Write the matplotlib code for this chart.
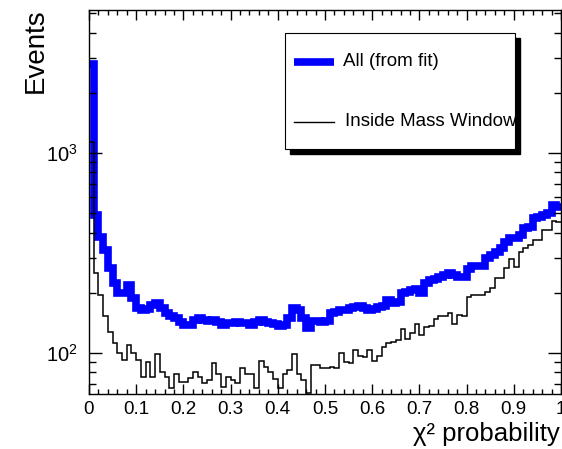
import numpy as np
import matplotlib
matplotlib.use("Agg")
import matplotlib.pyplot as plt
from matplotlib.lines import Line2D
from matplotlib.patches import Rectangle
from matplotlib.transforms import Bbox, TransformedBbox
from matplotlib.ticker import MultipleLocator, LogLocator, NullFormatter

plt.rcParams['font.family'] = ['Liberation Sans', 'DejaVu Sans']

# 100 bins of chi2 probability, 0..1
edges = np.linspace(0, 1, 101)

# All (from fit)
all_fit = [2800, 490, 380, 327, 266, 224, 200, 200, 219, 188,
           168, 164, 166, 174, 178, 168, 158, 153, 150, 143,
           138, 138, 146, 150, 146, 145, 146, 143, 138, 141,
           141, 143, 141, 141, 138, 143, 146, 143, 141, 140,
           137, 138, 150, 168, 164, 150, 133, 145, 145, 143,
           145, 158, 160, 164, 164, 168, 170, 172, 168, 164,
           166, 170, 172, 184, 178, 180, 200, 202, 207, 209,
           200, 224, 232, 235, 240, 245, 251, 245, 240, 240,
           263, 272, 272, 272, 299, 309, 320, 335, 359, 376,
           376, 389, 422, 427, 473, 479, 490, 501, 550, 537]

# Inside Mass Window
in_window = [1130, 251, 195, 153, 127, 112, 100, 92, 110, 100,
             92, 76, 90, 76, 99, 80, 76, 67, 79, 72,
             72, 75, 80, 76, 71, 73, 89, 79, 68, 76,
             73, 71, 84, 79, 79, 67, 91, 85, 80, 74,
             67, 79, 82, 99, 79, 73, 63, 87, 87, 84,
             84, 85, 84, 100, 90, 89, 104, 97, 95, 103,
             91, 97, 107, 112, 114, 116, 132, 118, 126, 140,
             123, 135, 137, 148, 153, 153, 158, 140, 155, 153,
             191, 195, 195, 195, 202, 211, 237, 237, 266, 295,
             269, 320, 335, 346, 367, 367, 412, 412, 457, 452]

xticks = [0, 0.1, 0.2, 0.3, 0.4, 0.5, 0.6, 0.7, 0.8, 0.9, 1]
xticklabels = ['0', '0.1', '0.2', '0.3', '0.4', '0.5', '0.6', '0.7', '0.8', '0.9', '1']

W, H = 562, 449
fig = plt.figure(figsize=(W / 100, H / 100), dpi=100)
ax = fig.add_axes([89 / W, 55 / H, 472 / W, 384 / H])

ax.stairs(all_fit, edges, color=(0, 0, 1), lw=5.5, baseline=None, zorder=1)
ax.stairs(in_window, edges, color='k', lw=1.1, baseline=None, zorder=1.5)

ax.set_yscale('log')
ax.set_xlim(0, 1)
ax.set_ylim(62.4, 5190)
ax.set_xticks(xticks)
ax.set_xticklabels(xticklabels)
ax.xaxis.set_minor_locator(MultipleLocator(0.02))
ax.yaxis.set_minor_locator(LogLocator(base=10, subs=np.arange(2, 10)))
ax.yaxis.set_minor_formatter(NullFormatter())

ax.tick_params(which='both', direction='in', top=True, right=True, width=1)
ax.tick_params(axis='x', which='major', length=7.5, pad=5, labelsize=13.5)
ax.tick_params(axis='x', which='minor', length=3.8)
ax.tick_params(axis='y', which='major', length=9.5, pad=8, labelsize=14.5)
ax.tick_params(axis='y', which='minor', length=5)
for s in ax.spines.values():
    s.set_linewidth(1.0)

ax.set_xlabel('χ² probability', fontsize=18.5, loc='right')
ax.xaxis.set_label_coords(0.997, -0.072)
ax.set_ylabel('Events', fontsize=20, loc='top')
ax.yaxis.set_label_coords(-0.085, 1.005)

# legend box with ROOT-style shadow
x0, x1, ytop, ybot = 285, 515, 33, 149
shadow = Rectangle(((x0 + 5) / W, 1 - (ybot + 5) / H), (x1 - x0) / W, (ybot - ytop) / H,
                   transform=fig.transFigure, facecolor='k', edgecolor='k', zorder=5)
frame = Rectangle((x0 / W, 1 - ybot / H), (x1 - x0) / W, (ybot - ytop) / H,
                  transform=fig.transFigure, facecolor='white', edgecolor='k', lw=0.8, zorder=6)
fig.add_artist(shadow)
fig.add_artist(frame)
fig.add_artist(Line2D([294 / W, 334 / W], [1 - 62 / H] * 2, color=(0, 0, 1), lw=5.5,
                      solid_capstyle='butt', transform=fig.transFigure, zorder=7))
fig.add_artist(Line2D([294 / W, 334 / W], [1 - 122 / H] * 2, color='k', lw=1.0,
                      transform=fig.transFigure, zorder=7))
fig.text(343 / W, 1 - 62 / H, 'All (from fit)', va='center', fontsize=13.5, zorder=7)
t = fig.text(345 / W, 1 - 122 / H, 'Inside Mass Window', va='center', fontsize=13.5, zorder=7)
t.set_clip_box(TransformedBbox(Bbox([[x0 / W, 1 - ybot / H], [x1 / W, 1 - ytop / H]]),
                               fig.transFigure))
t.set_clip_on(True)

fig.savefig('out.png', dpi=100)
